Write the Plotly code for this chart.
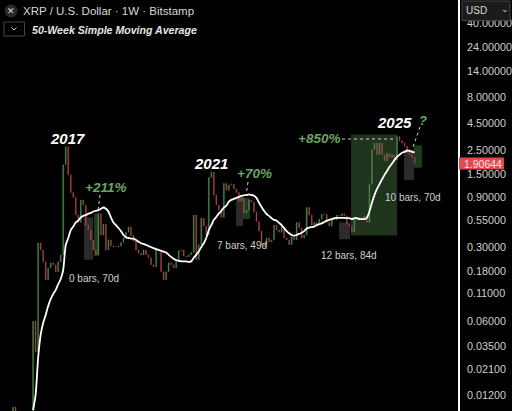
import pandas as pd
import plotly.graph_objects as go

# XRP/USD, one bar per three weeks
closes = [
    0.0092, 0.006, 0.006, 0.006, 0.006, 0.006, 0.006, 0.006, 0.0602, 0.0306,
    0.331, 0.285, 0.22, 0.149, 0.193, 0.215, 0.206, 0.177, 0.22, 0.256,
    1.83, 2.72, 1.47, 1.0, 0.9, 0.61, 0.52, 0.85, 0.76, 0.49,
    0.44, 0.355, 0.285, 0.256, 0.63, 0.395, 0.50, 0.285, 0.355, 0.31,
    0.305, 0.305, 0.31, 0.335, 0.37, 0.42, 0.47, 0.39, 0.345, 0.285,
    0.265, 0.256, 0.285, 0.256, 0.24, 0.206, 0.197, 0.285, 0.285, 0.177,
    0.149, 0.177, 0.215, 0.206, 0.193, 0.22, 0.28, 0.285, 0.25, 0.245,
    0.256, 0.27, 0.61, 0.23, 0.32, 0.57, 0.48, 0.395, 1.39, 1.56,
    0.945, 0.76, 0.68, 0.58, 1.22, 1.05, 1.18, 1.2, 1.08, 1.0,
    0.82, 0.89, 0.64, 0.68, 0.85, 0.81, 0.65, 0.53, 0.43, 0.32,
    0.305, 0.37, 0.34, 0.355, 0.49, 0.44, 0.42, 0.47, 0.37, 0.355,
    0.32, 0.38, 0.355, 0.52, 0.46, 0.37, 0.395, 0.72, 0.61, 0.49,
    0.52, 0.50, 0.56, 0.62, 0.62, 0.52, 0.48, 0.56, 0.55, 0.61,
    0.60, 0.63, 0.60, 0.50, 0.48, 0.42, 0.56, 0.55, 0.58, 0.55,
    0.60, 0.52, 1.2, 2.55, 2.94, 2.28, 2.94, 2.28, 2.0, 2.35,
    2.15, 2.28, 2.04, 3.4, 3.1, 2.94, 2.75, 2.4, 2.28, 2.15,
    1.90644,
]

sma50 = [
    None, None, None, None, None, None, None, None, 0.0086, 0.012,
    0.0269, 0.0445, 0.0577, 0.0687, 0.0838, 0.0975, 0.1087, 0.1186, 0.135, 0.151,
    0.185, 0.318, 0.37, 0.44, 0.475, 0.52, 0.54, 0.58, 0.6, 0.61,
    0.63, 0.64, 0.66, 0.67, 0.68, 0.70, 0.72, 0.70, 0.66, 0.58,
    0.52, 0.49, 0.46, 0.43, 0.395, 0.375, 0.37, 0.365, 0.365, 0.355,
    0.34, 0.33, 0.325, 0.318, 0.31, 0.303, 0.296, 0.29, 0.285, 0.28,
    0.275, 0.27, 0.256, 0.245, 0.235, 0.228, 0.225, 0.222, 0.222, 0.222,
    0.22, 0.222, 0.24, 0.256, 0.275, 0.303, 0.33, 0.37, 0.44, 0.49,
    0.55, 0.585, 0.63, 0.67, 0.72, 0.75, 0.82, 0.85, 0.87, 0.89,
    0.91, 0.93, 0.94, 0.945, 0.96, 0.945, 0.93, 0.89, 0.80, 0.73,
    0.67, 0.625, 0.60, 0.57, 0.55, 0.54, 0.515, 0.49, 0.46, 0.43,
    0.41, 0.395, 0.39, 0.395, 0.405, 0.415, 0.43, 0.455, 0.465, 0.47,
    0.475, 0.49, 0.50, 0.51, 0.525, 0.54, 0.55, 0.56, 0.57, 0.575,
    0.575, 0.575, 0.575, 0.57, 0.57, 0.56, 0.57, 0.57, 0.56, 0.56,
    0.56, 0.575, 0.66, 0.80, 0.945, 1.08, 1.2, 1.33, 1.47, 1.6,
    1.75, 1.88, 2.04, 2.18, 2.28, 2.38, 2.43, 2.5, 2.48, 2.43,
    2.4,
]

tick_vals = [40, 24, 14, 8, 4.5, 2.5, 1.5, 0.9, 0.55, 0.3, 0.18, 0.11, 0.06, 0.035, 0.021, 0.012]
tick_text = ["%.5f" % t for t in tick_vals]

# highlighted ranges: start, end, top price, bottom price, colour
zones = [
    ("2024-07-22", "2025-08-11", 3.55, 0.39, "#1f331d"),
    ("2018-06-10", "2018-08-24", 0.58, 0.23, "#2b2b2b"),
    ("2018-09-02", "2018-10-13", 0.63, 0.25, "#1c3a1c"),
    ("2021-12-03", "2022-01-30", 0.91, 0.48, "#2b2b2b"),
    ("2022-01-30", "2022-03-30", 0.89, 0.56, "#1c3a1c"),
    ("2024-04-12", "2024-07-14", 0.52, 0.36, "#2b2b2b"),
    ("2025-10-08", "2025-12-31", 2.55, 1.31, "#2b2b2b"),
    ("2025-12-31", "2026-03-08", 2.8, 1.72, "#1c3a1c"),
]

dates = pd.date_range("2016-10-24", periods=len(closes), freq="21D")
opens = [0.0075] + closes[:-1]
highs = [max(o, c) for o, c in zip(opens, closes)]
lows = [min(o, c) for o, c in zip(opens, closes)]

W, H = 512, 411


def px(x):
    return x / W


def py(y):
    return 1 - y / H


fig = go.Figure()

fig.add_trace(go.Candlestick(
    x=dates, open=opens, high=highs, low=lows, close=closes,
    increasing=dict(line=dict(color="#4e8a4c", width=0.4), fillcolor="#4e8a4c"),
    decreasing=dict(line=dict(color="#a8474a", width=0.4), fillcolor="#a8474a"),
    hoverinfo="skip",
))

fig.add_trace(go.Scatter(
    x=dates, y=sma50, mode="lines",
    line=dict(color="white", width=1.8, shape="spline", smoothing=0.6),
    hoverinfo="skip",
))

shapes = []
for start, end, top, bottom, colour in zones:
    shapes.append(dict(type="rect", xref="x", yref="y", x0=start, x1=end, y0=bottom, y1=top,
                       fillcolor=colour, line_width=0, layer="below"))

# dotted leaders
for x0, y0, x1, y1 in [(100, 195, 98, 211), (248, 182, 246, 196), (342, 139, 395, 139), (420, 127, 413, 147)]:
    shapes.append(dict(type="line", xref="paper", yref="paper", x0=px(x0), y0=py(y0), x1=px(x1), y1=py(y1),
                       line=dict(color="#d0d0d0", width=1, dash="dot")))

# USD selector, price tag, header icons
shapes.append(dict(type="rect", xref="paper", yref="paper", x0=px(462), x1=px(510), y0=py(1), y1=py(20.5),
                   fillcolor="#1b1b1b", line=dict(color="#444444", width=1)))
shapes.append(dict(type="rect", xref="paper", yref="paper", x0=px(459), x1=px(504), y0=py(157.5), y1=py(169.5),
                   fillcolor="#e04a50", line_width=0))
shapes.append(dict(type="circle", xref="paper", yref="paper", x0=px(4.5), x1=px(17.5), y0=py(4.5), y1=py(17.5),
                   fillcolor="#2a2a2a", line_width=0))
shapes.append(dict(type="rect", xref="paper", yref="paper", x0=px(4), x1=px(24.5), y0=py(22), y1=py(36),
                   fillcolor="#000000", line=dict(color="#444444", width=1)))
shapes.append(dict(type="path", xref="paper", yref="paper",
                   path="M %f %f L %f %f L %f %f" % (px(11.5), py(27.5), px(14), py(30), px(16.5), py(27.5)),
                   line=dict(color="#cccccc", width=1)))

FONT = "Liberation Sans"


def label(text, x, y, size, color, anchor="left"):
    return dict(text=text, xref="paper", yref="paper", x=px(x), y=py(y), showarrow=False,
                xanchor=anchor, yanchor="middle", font=dict(family=FONT, size=size, color=color))


GREEN = "#6aa662"
annotations = [
    label("✕", 11, 11, 9, "#dddddd", "center"),
    label("XRP / U.S. Dollar · 1W · Bitstamp", 21, 11, 11.5, "#d8d8d8"),
    label("<b><i>50-Week Simple Moving Average</i></b>", 30, 30, 10.6, "#e6e6e6"),
    label("<b><i>2017</i></b>", 48, 138, 15, "white"),
    label("<b><i>2021</i></b>", 192, 163, 15, "white"),
    label("<b><i>2025</i></b>", 375, 123, 15, "white"),
    label("<b><i>+211%</i></b>", 83, 187, 13.5, GREEN),
    label("<b><i>+70%</i></b>", 235, 173, 13.5, GREEN),
    label("<b><i>+850%</i></b>", 296, 139, 13.5, GREEN),
    label("<b><i>?</i></b>", 423, 121, 13, GREEN, "center"),
    label("0 bars, 70d", 67, 278, 10, "#d0d0d0"),
    label("7 bars, 49d", 215, 245, 10, "#d0d0d0"),
    label("12 bars, 84d", 319, 255, 10, "#d0d0d0"),
    label("10 bars, 70d", 383, 197, 10, "#d0d0d0"),
    label("USD", 464, 11, 10, "#d8d8d8"),
    label("⌄", 505, 9, 9, "#cccccc", "center"),
    label("1.90644", 483, 163.5, 10.5, "#f4e4e4", "center"),
]

fig.update_layout(
    width=W,
    height=H,
    margin=dict(l=0, r=0, t=0, b=0),
    paper_bgcolor="black",
    plot_bgcolor="black",
    showlegend=False,
    boxgap=0.45,
    shapes=shapes,
    annotations=annotations,
    xaxis=dict(
        domain=[0, 458 / W],
        range=["2016-07-07", "2027-01-03"],
        visible=False,
        rangeslider=dict(visible=False),
    ),
    yaxis=dict(
        type="log",
        side="right",
        range=[-2.073, 1.826],
        tickvals=tick_vals,
        ticktext=tick_text,
        tickfont=dict(family=FONT, size=10.8, color="#cfcfcf"),
        showgrid=False,
        zeroline=False,
        showline=True,
        linecolor="white",
        linewidth=1.5,
        ticks="",
        ticklabelstandoff=5,
    ),
)

# the page's default body margin would shift the chart by 8px
fig.write_html(
    "out.html",
    config=dict(displayModeBar=False),
    post_script="document.body.style.margin='0';document.documentElement.style.background='black';document.documentElement.style.overflow='hidden';",
)
